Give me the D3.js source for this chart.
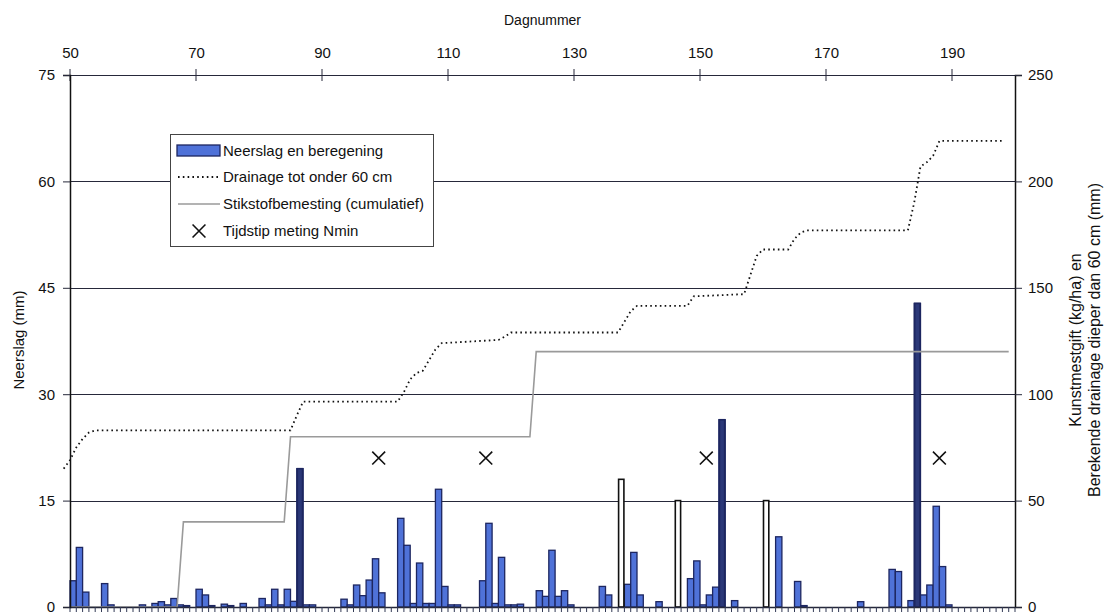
<!DOCTYPE html>
<html>
<head>
<meta charset="utf-8">
<script src="https://cdn.jsdelivr.net/npm/d3@7"></script>
<style>
  html, body { margin: 0; padding: 0; background: #fff; }
  svg text { font-family: "Liberation Sans", Arial, Helvetica, sans-serif; fill: #111; }
</style>
</head>
<body>
<svg id="chart" width="1113" height="615"></svg>
<script>
// Daily precipitation + irrigation (mm), one value per day starting at firstDay
const firstDay = 50;
const rain = [
  3.7, 8.4, 2.1, 0, 0, 3.3, 0.3, 0, 0, 0,          // 50-59
  0, 0.3, 0, 0.5, 0.75, 0.3, 1.2, 0.3, 0.2, 0,     // 60-69
  2.5, 1.7, 0.2, 0, 0.4, 0.2, 0, 0.5, 0, 0,        // 70-79
  1.2, 0.3, 2.5, 0.3, 2.5, 0.8, 19.5, 0.3, 0.3, 0, // 80-89
  0, 0, 0, 1.1, 0.3, 3.1, 1.6, 3.8, 6.8, 2.0,      // 90-99
  0, 0, 12.5, 8.7, 0.5, 6.2, 0.5, 0.5, 16.6, 2.9,  // 100-109
  0.3, 0.3, 0, 0, 0, 3.7, 11.8, 0.5, 7.0, 0.3,     // 110-119
  0.3, 0.4, 0, 0, 2.3, 1.5, 8.0, 1.5, 2.3, 0.3,    // 120-129
  0, 0, 0, 0, 2.9, 1.7, 0, 0, 3.2, 7.7,            // 130-139
  1.7, 0, 0, 0.75, 0, 0, 0, 0, 4.0, 6.5,           // 140-149
  0.3, 1.7, 2.8, 26.4, 0, 0.9, 0, 0, 0, 0,         // 150-159
  0, 0, 9.9, 0, 0, 3.6, 0.2, 0, 0, 0,              // 160-169
  0, 0, 0, 0, 0, 0.75, 0, 0, 0, 0,                 // 170-179
  5.3, 5.0, 0, 0.9, 42.8, 1.7, 3.1, 14.2, 5.7, 0.3,// 180-189
  0, 0, 0, 0, 0, 0, 0, 0, 0, 0                     // 190-199
];

// Irrigation gifts (mm)
const irrigationDays = [86, 137, 146, 153, 160, 184];
const irrigation     = [19.5, 18.0, 15.0, 26.4, 15.0, 42.8];

// Cumulative drainage below 60 cm (mm), right axis
const drainageDays = [49, 50, 51, 52, 53, 54, 85, 86, 87, 102, 103, 104, 105, 106, 107, 108, 109,
                      118, 119, 120, 137, 138, 139, 140, 148, 149, 157, 158, 159, 160, 164, 165, 166, 167,
                      183, 184, 185, 186, 187, 188, 198];
const drainage     = [65, 69, 75, 79, 82, 83, 83, 90, 96.5, 96.5, 101, 107, 110, 111, 116, 121, 124,
                      125.5, 127, 129, 129, 134, 139, 141.5, 141.5, 146, 147, 156, 165, 168, 168, 173, 176, 177,
                      177, 190, 207, 209, 212, 219, 219];

// Cumulative nitrogen fertiliser (kg/ha), right axis
const fertDays = [50, 67, 68, 84, 85, 123, 124, 199];
const fert     = [0, 0, 40, 40, 80, 80, 120, 120];

// Nmin sampling moments (plotted on right axis)
const nminDays = [99, 116, 151, 188];
const nminLevel = 70;

// Axis ticks
const dayTicks = [50, 70, 90, 110, 130, 150, 170, 190];
const leftTicks = [0, 15, 30, 45, 60, 75];
const rightTicks = [0, 50, 100, 150, 200, 250];

const legendLabels = ["Neerslag en beregening", "Drainage tot onder 60 cm",
                      "Stikstofbemesting (cumulatief)", "Tijdstip meting Nmin"];

const svg = d3.select("#chart");
const L = 70, R = 1015, T = 75, B = 607;

const x = d3.scaleLinear().domain([50, 200]).range([L, R]);
const yL = d3.scaleLinear().domain([0, 75]).range([B, T]);
const yR = d3.scaleLinear().domain([0, 250]).range([B, T]);

const gridColor = "#26283a";
const barFill = "#4f72d8";
const barStroke = "#1d2660";

// horizontal gridlines
svg.append("g").selectAll("line").data(leftTicks.filter(v => v > 0 && v < 75)).join("line")
  .attr("x1", L).attr("x2", R)
  .attr("y1", d => Math.round(yL(d)) + 0.5).attr("y2", d => Math.round(yL(d)) + 0.5)
  .attr("stroke", gridColor).attr("stroke-width", 1);

// precipitation bars
const rainData = rain.map((v, i) => ({ day: firstDay + i, v }));
svg.append("g").selectAll("rect").data(rainData.filter(d => d.v > 0)).join("rect")
  .attr("x", d => x(d.day))
  .attr("width", d => x(d.day + 1) - x(d.day))
  .attr("y", d => yL(d.v))
  .attr("height", d => B - yL(d.v))
  .attr("fill", barFill).attr("stroke", barStroke).attr("stroke-width", 1.3);

// irrigation bars: hollow where no rain, dark where they coincide with rain
const irrData = irrigationDays.map((d, i) => ({ day: d, v: irrigation[i], rain: rain[d - firstDay] }));
svg.append("g").selectAll("rect").data(irrData).join("rect")
  .attr("x", d => x(d.day) + 0.5)
  .attr("width", d => x(d.day + 1) - x(d.day) - 1)
  .attr("y", d => yL(d.v))
  .attr("height", d => B - yL(d.v))
  .attr("fill", d => d.rain > 0 ? "#2b3878" : "#fff")
  .attr("stroke", d => d.rain > 0 ? "#1d2660" : "#111")
  .attr("stroke-width", 1.6);

// fertiliser line
svg.append("path")
  .datum(fertDays.map((d, i) => [d, fert[i]]))
  .attr("fill", "none").attr("stroke", "#9a9a9a").attr("stroke-width", 1.6)
  .attr("d", d3.line().x(d => x(d[0])).y(d => yR(d[1])));

// drainage line (dotted)
svg.append("path")
  .datum(drainageDays.map((d, i) => [d, drainage[i]]))
  .attr("fill", "none").attr("stroke", "#111").attr("stroke-width", 1.8)
  .attr("stroke-dasharray", "1.6,3.2")
  .attr("d", d3.line().x(d => x(d[0])).y(d => yR(d[1])));

// Nmin markers
const cross = d3.symbol().type(d3.symbolX).size(110);
svg.append("g").selectAll("path").data(nminDays).join("path")
  .attr("transform", d => `translate(${x(d)},${yR(nminLevel)})`)
  .attr("d", cross).attr("fill", "none").attr("stroke", "#111").attr("stroke-width", 1.6);

// top axis
const topAxis = d3.axisTop(x).tickValues(dayTicks).tickSize(0).tickPadding(17).tickFormat(d3.format("d"));
const gTop = svg.append("g").attr("transform", `translate(0,${T})`).call(topAxis);
gTop.select(".domain").remove();
gTop.selectAll("text").attr("font-size", 15).attr("fill", "#111");
svg.append("line").attr("x1", L).attr("x2", R).attr("y1", T + 0.5).attr("y2", T + 0.5)
  .attr("stroke", gridColor).attr("stroke-width", 1.2);
svg.append("g").selectAll("line").data(dayTicks).join("line")
  .attr("x1", d => x(d)).attr("x2", d => x(d)).attr("y1", T - 6).attr("y2", T + 6)
  .attr("stroke", gridColor).attr("stroke-width", 1);

// bottom baseline with daily minor ticks
svg.append("line").attr("x1", L).attr("x2", R).attr("y1", B + 0.5).attr("y2", B + 0.5)
  .attr("stroke", gridColor).attr("stroke-width", 1.3);
svg.append("g").selectAll("line").data(d3.range(50, 201)).join("line")
  .attr("x1", d => x(d)).attr("x2", d => x(d)).attr("y1", B).attr("y2", B + 5)
  .attr("stroke", "#333a55").attr("stroke-width", 1);

// left axis
const gLeft = svg.append("g").attr("transform", `translate(${L},0)`)
  .call(d3.axisLeft(yL).tickValues(leftTicks).tickSize(7).tickPadding(8));
gLeft.select(".domain").attr("stroke", "#111").attr("stroke-width", 1.5);
gLeft.selectAll(".tick line").attr("stroke", gridColor);
gLeft.selectAll("text").attr("font-size", 15).attr("fill", "#111");

// right axis
const gRight = svg.append("g").attr("transform", `translate(${R},0)`)
  .call(d3.axisRight(yR).tickValues(rightTicks).tickSize(7).tickPadding(6));
gRight.select(".domain").attr("stroke", "#111").attr("stroke-width", 1.5);
gRight.selectAll(".tick line").attr("stroke", gridColor);
gRight.selectAll("text").attr("font-size", 15).attr("fill", "#111");

// axis titles
svg.append("text").attr("x", (L + R) / 2).attr("y", 25).attr("text-anchor", "middle")
  .attr("font-size", 14).text("Dagnummer");
svg.append("text").attr("transform", "translate(24,340) rotate(-90)").attr("text-anchor", "middle")
  .attr("font-size", 15).text("Neerslag (mm)");
svg.append("text").attr("transform", "translate(1081,340) rotate(-90)").attr("text-anchor", "middle")
  .attr("font-size", 16).text("Kunstmestgift (kg/ha) en");
svg.append("text").attr("transform", "translate(1100,340) rotate(-90)").attr("text-anchor", "middle")
  .attr("font-size", 16).text("Berekende drainage dieper dan 60 cm (mm)");

// legend
const lg = svg.append("g").attr("transform", "translate(170,134)");
lg.append("rect").attr("x", 0.5).attr("y", 0.5).attr("width", 263).attr("height", 112)
  .attr("fill", "#fff").attr("stroke", "#444").attr("stroke-width", 1);
const rowY = [17, 43, 70, 97];
lg.append("rect").attr("x", 7).attr("y", rowY[0] - 6).attr("width", 43).attr("height", 11)
  .attr("fill", barFill).attr("stroke", barStroke).attr("stroke-width", 1.3);
lg.append("line").attr("x1", 8).attr("x2", 50).attr("y1", rowY[1]).attr("y2", rowY[1])
  .attr("stroke", "#111").attr("stroke-width", 1.8).attr("stroke-dasharray", "1.6,3.2");
lg.append("line").attr("x1", 8).attr("x2", 50).attr("y1", rowY[2]).attr("y2", rowY[2])
  .attr("stroke", "#9a9a9a").attr("stroke-width", 1.6);
lg.append("path").attr("transform", `translate(29,${rowY[3]})`).attr("d", cross)
  .attr("fill", "none").attr("stroke", "#111").attr("stroke-width", 1.6);
lg.selectAll("text.lab").data(legendLabels).join("text").attr("class", "lab")
  .attr("x", 53).attr("y", (d, i) => rowY[i] + 5).attr("font-size", 15).text(d => d);
</script>
</body>
</html>
